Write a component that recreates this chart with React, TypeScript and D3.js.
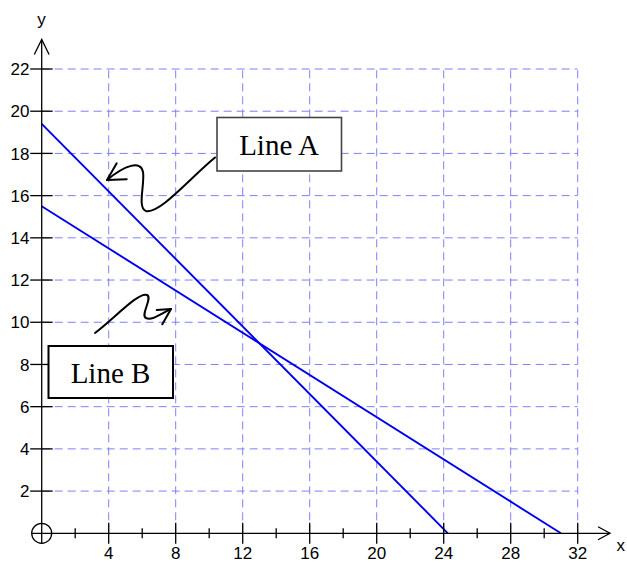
import React from "react";
import * as d3 from "d3";

const xMajorTicks = [4, 8, 12, 16, 20, 24, 28, 32];
const xMinorTicks = [2, 6, 10, 14, 18, 22, 26, 30];
const yTicks = [2, 4, 6, 8, 10, 12, 14, 16, 18, 20, 22];
const lineA = [
  { x: 0, y: 19.4 },
  { x: 24.25, y: 0 },
];
const lineB = [
  { x: 0, y: 15.5 },
  { x: 31, y: 0 },
];
const labelA = "Line A";
const labelB = "Line B";

export default function App() {
  const W = 627;
  const H = 563;
  const x = d3.scaleLinear().domain([0, 32]).range([41.7, 577.7]);
  const y = d3.scaleLinear().domain([0, 22]).range([533.3, 69]);
  const line = d3
    .line<{ x: number; y: number }>()
    .x((d) => x(d.x))
    .y((d) => y(d.y));
  const x0 = x(0);
  const y0 = y(0);
  const gridColor = "#7f7fff";
  const sans = "'Liberation Sans', Arial, sans-serif";
  const serif = "'Liberation Serif', 'Times New Roman', serif";

  return (
    <svg
      width={W}
      height={H}
      style={{ position: "absolute", left: 0, top: 0, background: "#fff" }}
    >
      {/* grid */}
      <g stroke={gridColor} strokeWidth={1} strokeDasharray="8,5" fill="none">
        {xMajorTicks.map((t) => (
          <line key={"gx" + t} x1={x(t)} x2={x(t)} y1={y(0)} y2={y(22)} />
        ))}
        {yTicks.map((t) => (
          <line key={"gy" + t} x1={x(0)} x2={x(32)} y1={y(t)} y2={y(t)} />
        ))}
      </g>

      {/* data lines */}
      <path d={line(lineA) || ""} stroke="#0000ee" strokeWidth={1.9} fill="none" />
      <path d={line(lineB) || ""} stroke="#0000ee" strokeWidth={1.9} fill="none" />

      {/* axes */}
      <g stroke="#000" strokeWidth={1.3} fill="none">
        <line x1={x0 - 10} x2={610} y1={y0} y2={y0} />
        <line x1={x0} x2={x0} y1={y0 + 10} y2={39.5} />
        <polyline points={`598,526.8 610,${y0} 598,539.8`} />
        <polyline points={`34.3,54.5 ${x0},39.5 49.1,54.5`} />
        <circle cx={x0} cy={y0} r={10} />
        {xMajorTicks.map((t) => (
          <line key={"tx" + t} x1={x(t)} x2={x(t)} y1={y0 - 10.5} y2={y0 + 10.5} />
        ))}
        {xMinorTicks.map((t) => (
          <line key={"tm" + t} x1={x(t)} x2={x(t)} y1={y0 - 5} y2={y0 + 5} />
        ))}
        {yTicks.map((t) => (
          <line key={"ty" + t} x1={x0 - 11.5} x2={x0 + 11} y1={y(t)} y2={y(t)} />
        ))}
      </g>

      {/* tick labels */}
      <g fontFamily={sans} fontSize={17} fill="#000">
        {xMajorTicks.map((t) => (
          <text key={"lx" + t} x={x(t)} y={559} textAnchor="middle">
            {t}
          </text>
        ))}
        {yTicks.map((t) => (
          <text key={"ly" + t} x={29.5} y={y(t) + 6.1} textAnchor="end">
            {t}
          </text>
        ))}
        <text x={41.5} y={25} textAnchor="middle">y</text>
        <text x={616.5} y={551}>x</text>
      </g>

      {/* Line A callout */}
      <rect x={217} y={117.5} width={124.5} height={53.5} fill="#fff" stroke="#444" strokeWidth={1.6} />
      <text x={279} y={155} textAnchor="middle" fontFamily={serif} fontSize={29}>
        {labelA}
      </text>
      <g stroke="#000" strokeWidth={2} fill="none" strokeLinecap="round" strokeLinejoin="round">
        <path d="M215,157.5 C190,178 160,214 146,211 C137,208 145,184 143,172 C141,160 125,165 107,180" />
        <polyline points="116.7,163.3 107,180 126.7,179.3" />
      </g>

      {/* Line B callout */}
      <rect x={48.5} y={346} width={124.5} height={52} fill="#fff" stroke="#000" strokeWidth={2} />
      <text x={110.5} y={383.3} textAnchor="middle" fontFamily={serif} fontSize={29}>
        {labelB}
      </text>
      <g stroke="#000" strokeWidth={2} fill="none" strokeLinecap="round" strokeLinejoin="round">
        <path d="M95,333 C115,318 138,292 147,295 C153,298 140,315 146,318 C152,321 160,314 171,309" />
        <polyline points="156.7,310 171,309 162.3,324.3" />
      </g>
    </svg>
  );
}
